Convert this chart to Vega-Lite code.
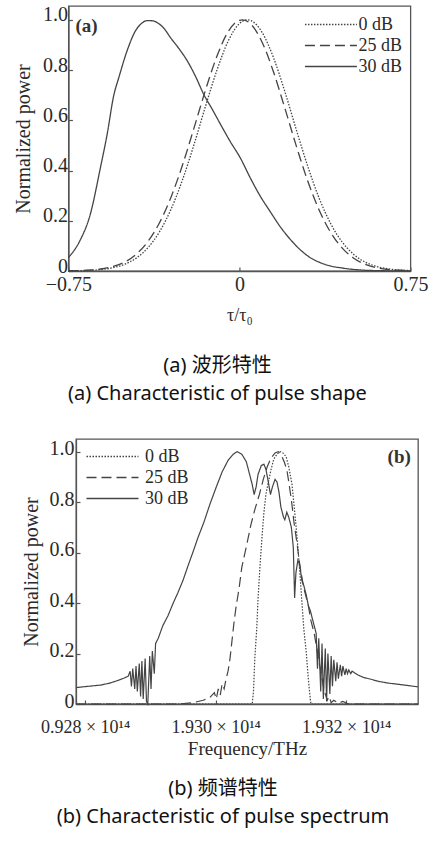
{
  "$schema": "https://vega.github.io/schema/vega-lite/v6.json",
  "background": "white",
  "padding": {"left": 12, "top": 4, "right": 0, "bottom": 0},
  "center": true,
  "spacing": 32,
  "resolve": {"scale": {"strokeDash": "independent"}, "legend": {"strokeDash": "independent"}},
  "config": {
    "view": {"stroke": "#555", "strokeWidth": 1.3},
    "axis": {
      "domainColor": "#555", "domainWidth": 1.3,
      "tickColor": "#555", "tickWidth": 1.2, "tickSize": -4,
      "labelFont": "Liberation Serif", "labelFontSize": 20, "labelColor": "#2a2a2a",
      "titleFont": "Liberation Serif", "titleFontWeight": "normal", "titleColor": "#2a2a2a",
      "grid": false, "labelFlush": false, "labelOverlap": false, "labelBound": false
    },
    "legend": {
      "orient": "none", "title": null, "symbolType": "M-3,0H3", "symbolSize": 300,
      "symbolStrokeWidth": 1.3, "symbolStrokeColor": "#444",
      "labelFont": "Liberation Serif", "labelFontSize": 18, "labelColor": "#2a2a2a",
      "rowPadding": 2, "padding": 0
    },
    "title": {
      "font": "Noto Sans, Noto Sans CJK SC", "fontSize": 20, "fontWeight": "normal",
      "color": "#111", "orient": "bottom", "anchor": "middle", "lineHeight": 28
    }
  },
  "datasets": {
    "pulse": [
      {"s": "0 dB", "t": -0.75, "p": 0.0005}, {"s": "0 dB", "t": -0.70, "p": 0.0012}, {"s": "0 dB", "t": -0.65, "p": 0.0028},
      {"s": "0 dB", "t": -0.60, "p": 0.0065}, {"s": "0 dB", "t": -0.55, "p": 0.014}, {"s": "0 dB", "t": -0.50, "p": 0.028},
      {"s": "0 dB", "t": -0.45, "p": 0.053}, {"s": "0 dB", "t": -0.40, "p": 0.094}, {"s": "0 dB", "t": -0.35, "p": 0.157},
      {"s": "0 dB", "t": -0.30, "p": 0.246}, {"s": "0 dB", "t": -0.25, "p": 0.362}, {"s": "0 dB", "t": -0.20, "p": 0.501},
      {"s": "0 dB", "t": -0.15, "p": 0.652}, {"s": "0 dB", "t": -0.10, "p": 0.796}, {"s": "0 dB", "t": -0.05, "p": 0.914},
      {"s": "0 dB", "t": 0.00, "p": 0.985}, {"s": "0 dB", "t": 0.035, "p": 1.0}, {"s": "0 dB", "t": 0.05, "p": 0.997},
      {"s": "0 dB", "t": 0.10, "p": 0.949}, {"s": "0 dB", "t": 0.15, "p": 0.848}, {"s": "0 dB", "t": 0.20, "p": 0.712},
      {"s": "0 dB", "t": 0.25, "p": 0.561}, {"s": "0 dB", "t": 0.30, "p": 0.416}, {"s": "0 dB", "t": 0.35, "p": 0.289},
      {"s": "0 dB", "t": 0.40, "p": 0.189}, {"s": "0 dB", "t": 0.45, "p": 0.116}, {"s": "0 dB", "t": 0.50, "p": 0.067},
      {"s": "0 dB", "t": 0.55, "p": 0.036}, {"s": "0 dB", "t": 0.60, "p": 0.0185}, {"s": "0 dB", "t": 0.65, "p": 0.0088},
      {"s": "0 dB", "t": 0.70, "p": 0.004}, {"s": "0 dB", "t": 0.75, "p": 0.0017},

      {"s": "25 dB", "t": -0.75, "p": 0.001}, {"s": "25 dB", "t": -0.70, "p": 0.002}, {"s": "25 dB", "t": -0.65, "p": 0.004},
      {"s": "25 dB", "t": -0.60, "p": 0.009}, {"s": "25 dB", "t": -0.55, "p": 0.019}, {"s": "25 dB", "t": -0.50, "p": 0.037},
      {"s": "25 dB", "t": -0.45, "p": 0.069}, {"s": "25 dB", "t": -0.40, "p": 0.119}, {"s": "25 dB", "t": -0.35, "p": 0.193},
      {"s": "25 dB", "t": -0.30, "p": 0.294}, {"s": "25 dB", "t": -0.25, "p": 0.421}, {"s": "25 dB", "t": -0.20, "p": 0.567},
      {"s": "25 dB", "t": -0.15, "p": 0.717}, {"s": "25 dB", "t": -0.10, "p": 0.852}, {"s": "25 dB", "t": -0.05, "p": 0.952},
      {"s": "25 dB", "t": 0.00, "p": 0.998}, {"s": "25 dB", "t": 0.013, "p": 1.0}, {"s": "25 dB", "t": 0.05, "p": 0.983},
      {"s": "25 dB", "t": 0.10, "p": 0.910}, {"s": "25 dB", "t": 0.15, "p": 0.791}, {"s": "25 dB", "t": 0.20, "p": 0.646},
      {"s": "25 dB", "t": 0.25, "p": 0.496}, {"s": "25 dB", "t": 0.30, "p": 0.357}, {"s": "25 dB", "t": 0.35, "p": 0.242},
      {"s": "25 dB", "t": 0.40, "p": 0.154}, {"s": "25 dB", "t": 0.45, "p": 0.092}, {"s": "25 dB", "t": 0.50, "p": 0.052},
      {"s": "25 dB", "t": 0.55, "p": 0.027}, {"s": "25 dB", "t": 0.60, "p": 0.013}, {"s": "25 dB", "t": 0.65, "p": 0.006},
      {"s": "25 dB", "t": 0.70, "p": 0.003}, {"s": "25 dB", "t": 0.75, "p": 0.001},

      {"s": "30 dB", "t": -0.75, "p": 0.053}, {"s": "30 dB", "t": -0.70, "p": 0.12}, {"s": "30 dB", "t": -0.654, "p": 0.226},
      {"s": "30 dB", "t": -0.61, "p": 0.41}, {"s": "30 dB", "t": -0.58, "p": 0.545}, {"s": "30 dB", "t": -0.551, "p": 0.70},
      {"s": "30 dB", "t": -0.529, "p": 0.77}, {"s": "30 dB", "t": -0.493, "p": 0.876}, {"s": "30 dB", "t": -0.456, "p": 0.956},
      {"s": "30 dB", "t": -0.43, "p": 0.985}, {"s": "30 dB", "t": -0.405, "p": 0.997}, {"s": "30 dB", "t": -0.38, "p": 0.996},
      {"s": "30 dB", "t": -0.361, "p": 0.989}, {"s": "30 dB", "t": -0.33, "p": 0.965}, {"s": "30 dB", "t": -0.303, "p": 0.93},
      {"s": "30 dB", "t": -0.265, "p": 0.885}, {"s": "30 dB", "t": -0.229, "p": 0.837}, {"s": "30 dB", "t": -0.19, "p": 0.77},
      {"s": "30 dB", "t": -0.157, "p": 0.704}, {"s": "30 dB", "t": -0.12, "p": 0.645}, {"s": "30 dB", "t": -0.083, "p": 0.584},
      {"s": "30 dB", "t": -0.04, "p": 0.515}, {"s": "30 dB", "t": 0.004, "p": 0.45}, {"s": "30 dB", "t": 0.048, "p": 0.37},
      {"s": "30 dB", "t": 0.09, "p": 0.30}, {"s": "30 dB", "t": 0.136, "p": 0.235}, {"s": "30 dB", "t": 0.18, "p": 0.175},
      {"s": "30 dB", "t": 0.224, "p": 0.125}, {"s": "30 dB", "t": 0.27, "p": 0.082}, {"s": "30 dB", "t": 0.311, "p": 0.053},
      {"s": "30 dB", "t": 0.35, "p": 0.035}, {"s": "30 dB", "t": 0.399, "p": 0.02}, {"s": "30 dB", "t": 0.45, "p": 0.012},
      {"s": "30 dB", "t": 0.516, "p": 0.005}, {"s": "30 dB", "t": 0.58, "p": 0.002}, {"s": "30 dB", "t": 0.63, "p": 0.001},
      {"s": "30 dB", "t": 0.75, "p": 0.0}
    ],
    "spec": [
      {"s": "0 dB", "f": 1.92786, "p": 0}, {"s": "0 dB", "f": 1.93056, "p": 0}, {"s": "0 dB", "f": 1.93058, "p": 0.05},
      {"s": "0 dB", "f": 1.93060, "p": 0.18}, {"s": "0 dB", "f": 1.93063, "p": 0.30}, {"s": "0 dB", "f": 1.93065, "p": 0.42},
      {"s": "0 dB", "f": 1.93068, "p": 0.55}, {"s": "0 dB", "f": 1.93071, "p": 0.66}, {"s": "0 dB", "f": 1.93074, "p": 0.76},
      {"s": "0 dB", "f": 1.93077, "p": 0.83}, {"s": "0 dB", "f": 1.93080, "p": 0.87}, {"s": "0 dB", "f": 1.93085, "p": 0.93},
      {"s": "0 dB", "f": 1.93089, "p": 0.97}, {"s": "0 dB", "f": 1.93094, "p": 0.99}, {"s": "0 dB", "f": 1.93099, "p": 1.0},
      {"s": "0 dB", "f": 1.93103, "p": 0.995}, {"s": "0 dB", "f": 1.93108, "p": 0.98}, {"s": "0 dB", "f": 1.93112, "p": 0.94},
      {"s": "0 dB", "f": 1.93117, "p": 0.87}, {"s": "0 dB", "f": 1.93120, "p": 0.79}, {"s": "0 dB", "f": 1.93123, "p": 0.71},
      {"s": "0 dB", "f": 1.93126, "p": 0.62}, {"s": "0 dB", "f": 1.93129, "p": 0.52}, {"s": "0 dB", "f": 1.93132, "p": 0.41},
      {"s": "0 dB", "f": 1.93135, "p": 0.30}, {"s": "0 dB", "f": 1.93139, "p": 0.20}, {"s": "0 dB", "f": 1.93142, "p": 0.10},
      {"s": "0 dB", "f": 1.93145, "p": 0.02}, {"s": "0 dB", "f": 1.93146, "p": 0}, {"s": "0 dB", "f": 1.93310, "p": 0},

      {"s": "25 dB", "f": 1.92786, "p": 0}, {"s": "25 dB", "f": 1.92942, "p": 0}, {"s": "25 dB", "f": 1.92965, "p": 0.005},
      {"s": "25 dB", "f": 1.92981, "p": 0.015}, {"s": "25 dB", "f": 1.92991, "p": 0.025}, {"s": "25 dB", "f": 1.92998, "p": 0.045},
      {"s": "25 dB", "f": 1.93001, "p": 0.02}, {"s": "25 dB", "f": 1.93004, "p": 0.06}, {"s": "25 dB", "f": 1.93007, "p": 0.035},
      {"s": "25 dB", "f": 1.93010, "p": 0.08}, {"s": "25 dB", "f": 1.93013, "p": 0.06}, {"s": "25 dB", "f": 1.93016, "p": 0.1},
      {"s": "25 dB", "f": 1.93019, "p": 0.13}, {"s": "25 dB", "f": 1.93022, "p": 0.18}, {"s": "25 dB", "f": 1.93025, "p": 0.25},
      {"s": "25 dB", "f": 1.93028, "p": 0.32}, {"s": "25 dB", "f": 1.93031, "p": 0.38}, {"s": "25 dB", "f": 1.93036, "p": 0.46},
      {"s": "25 dB", "f": 1.93040, "p": 0.54}, {"s": "25 dB", "f": 1.93045, "p": 0.60}, {"s": "25 dB", "f": 1.93050, "p": 0.66},
      {"s": "25 dB", "f": 1.93054, "p": 0.71}, {"s": "25 dB", "f": 1.93060, "p": 0.77}, {"s": "25 dB", "f": 1.93067, "p": 0.83},
      {"s": "25 dB", "f": 1.93073, "p": 0.89}, {"s": "25 dB", "f": 1.93079, "p": 0.94}, {"s": "25 dB", "f": 1.93085, "p": 0.975},
      {"s": "25 dB", "f": 1.93091, "p": 0.995}, {"s": "25 dB", "f": 1.93096, "p": 1.0}, {"s": "25 dB", "f": 1.93100, "p": 0.99},
      {"s": "25 dB", "f": 1.93105, "p": 0.96}, {"s": "25 dB", "f": 1.93109, "p": 0.93}, {"s": "25 dB", "f": 1.93112, "p": 0.88},
      {"s": "25 dB", "f": 1.93116, "p": 0.81}, {"s": "25 dB", "f": 1.93120, "p": 0.72}, {"s": "25 dB", "f": 1.93125, "p": 0.63},
      {"s": "25 dB", "f": 1.93129, "p": 0.55}, {"s": "25 dB", "f": 1.93135, "p": 0.46}, {"s": "25 dB", "f": 1.93142, "p": 0.39},
      {"s": "25 dB", "f": 1.93146, "p": 0.33}, {"s": "25 dB", "f": 1.93151, "p": 0.28}, {"s": "25 dB", "f": 1.93155, "p": 0.22},
      {"s": "25 dB", "f": 1.93158, "p": 0.17}, {"s": "25 dB", "f": 1.93162, "p": 0.12}, {"s": "25 dB", "f": 1.93165, "p": 0.07},
      {"s": "25 dB", "f": 1.93168, "p": 0.04}, {"s": "25 dB", "f": 1.93171, "p": 0.015}, {"s": "25 dB", "f": 1.93174, "p": 0.03},
      {"s": "25 dB", "f": 1.93177, "p": 0.005}, {"s": "25 dB", "f": 1.93181, "p": 0.015}, {"s": "25 dB", "f": 1.93188, "p": 0.003},
      {"s": "25 dB", "f": 1.93195, "p": 0.01}, {"s": "25 dB", "f": 1.93203, "p": 0}, {"s": "25 dB", "f": 1.93310, "p": 0},

      {"s": "30 dB", "f": 1.92786, "p": 0.065}, {"s": "30 dB", "f": 1.92797, "p": 0.068}, {"s": "30 dB", "f": 1.92812, "p": 0.072},
      {"s": "30 dB", "f": 1.92824, "p": 0.075}, {"s": "30 dB", "f": 1.92838, "p": 0.083}, {"s": "30 dB", "f": 1.92850, "p": 0.093},
      {"s": "30 dB", "f": 1.92860, "p": 0.103}, {"s": "30 dB", "f": 1.92866, "p": 0.11}, {"s": "30 dB", "f": 1.92869, "p": 0.13},
      {"s": "30 dB", "f": 1.92871, "p": 0.07}, {"s": "30 dB", "f": 1.92873, "p": 0.14}, {"s": "30 dB", "f": 1.92876, "p": 0.06},
      {"s": "30 dB", "f": 1.92878, "p": 0.15}, {"s": "30 dB", "f": 1.92880, "p": 0.05}, {"s": "30 dB", "f": 1.92883, "p": 0.16},
      {"s": "30 dB", "f": 1.92885, "p": 0.03}, {"s": "30 dB", "f": 1.92887, "p": 0.17}, {"s": "30 dB", "f": 1.92889, "p": 0.02},
      {"s": "30 dB", "f": 1.92892, "p": 0.18}, {"s": "30 dB", "f": 1.92894, "p": 0.01}, {"s": "30 dB", "f": 1.92896, "p": 0.0},
      {"s": "30 dB", "f": 1.92899, "p": 0.19}, {"s": "30 dB", "f": 1.92901, "p": 0.06}, {"s": "30 dB", "f": 1.92903, "p": 0.21},
      {"s": "30 dB", "f": 1.92906, "p": 0.12}, {"s": "30 dB", "f": 1.92908, "p": 0.24}, {"s": "30 dB", "f": 1.92912, "p": 0.26},
      {"s": "30 dB", "f": 1.92919, "p": 0.31}, {"s": "30 dB", "f": 1.92927, "p": 0.35}, {"s": "30 dB", "f": 1.92935, "p": 0.40},
      {"s": "30 dB", "f": 1.92942, "p": 0.44}, {"s": "30 dB", "f": 1.92950, "p": 0.49}, {"s": "30 dB", "f": 1.92958, "p": 0.55},
      {"s": "30 dB", "f": 1.92965, "p": 0.60}, {"s": "30 dB", "f": 1.92973, "p": 0.66}, {"s": "30 dB", "f": 1.92982, "p": 0.72},
      {"s": "30 dB", "f": 1.92991, "p": 0.79}, {"s": "30 dB", "f": 1.93001, "p": 0.86}, {"s": "30 dB", "f": 1.93010, "p": 0.92},
      {"s": "30 dB", "f": 1.93019, "p": 0.965}, {"s": "30 dB", "f": 1.93027, "p": 0.99}, {"s": "30 dB", "f": 1.93033, "p": 1.0},
      {"s": "30 dB", "f": 1.93040, "p": 0.99}, {"s": "30 dB", "f": 1.93047, "p": 0.96}, {"s": "30 dB", "f": 1.93051, "p": 0.92},
      {"s": "30 dB", "f": 1.93056, "p": 0.87}, {"s": "30 dB", "f": 1.93059, "p": 0.83}, {"s": "30 dB", "f": 1.93062, "p": 0.86},
      {"s": "30 dB", "f": 1.93065, "p": 0.91}, {"s": "30 dB", "f": 1.93070, "p": 0.945}, {"s": "30 dB", "f": 1.93074, "p": 0.95},
      {"s": "30 dB", "f": 1.93077, "p": 0.93}, {"s": "30 dB", "f": 1.93080, "p": 0.89}, {"s": "30 dB", "f": 1.93084, "p": 0.83},
      {"s": "30 dB", "f": 1.93087, "p": 0.86}, {"s": "30 dB", "f": 1.93091, "p": 0.89}, {"s": "30 dB", "f": 1.93094, "p": 0.88},
      {"s": "30 dB", "f": 1.93097, "p": 0.84}, {"s": "30 dB", "f": 1.93100, "p": 0.78}, {"s": "30 dB", "f": 1.93104, "p": 0.74},
      {"s": "30 dB", "f": 1.93106, "p": 0.73}, {"s": "30 dB", "f": 1.93109, "p": 0.76}, {"s": "30 dB", "f": 1.93112, "p": 0.74},
      {"s": "30 dB", "f": 1.93116, "p": 0.70}, {"s": "30 dB", "f": 1.93119, "p": 0.62}, {"s": "30 dB", "f": 1.93121, "p": 0.42},
      {"s": "30 dB", "f": 1.93123, "p": 0.52}, {"s": "30 dB", "f": 1.93126, "p": 0.57}, {"s": "30 dB", "f": 1.93129, "p": 0.55},
      {"s": "30 dB", "f": 1.93132, "p": 0.49}, {"s": "30 dB", "f": 1.93135, "p": 0.47}, {"s": "30 dB", "f": 1.93139, "p": 0.43},
      {"s": "30 dB", "f": 1.93142, "p": 0.39}, {"s": "30 dB", "f": 1.93145, "p": 0.37}, {"s": "30 dB", "f": 1.93148, "p": 0.34},
      {"s": "30 dB", "f": 1.93151, "p": 0.31}, {"s": "30 dB", "f": 1.93154, "p": 0.28}, {"s": "30 dB", "f": 1.93156, "p": 0.14},
      {"s": "30 dB", "f": 1.93158, "p": 0.26}, {"s": "30 dB", "f": 1.93161, "p": 0.05}, {"s": "30 dB", "f": 1.93163, "p": 0.24},
      {"s": "30 dB", "f": 1.93165, "p": 0.02}, {"s": "30 dB", "f": 1.93168, "p": 0.22}, {"s": "30 dB", "f": 1.93170, "p": 0.01},
      {"s": "30 dB", "f": 1.93172, "p": 0.20}, {"s": "30 dB", "f": 1.93175, "p": 0.04}, {"s": "30 dB", "f": 1.93177, "p": 0.19},
      {"s": "30 dB", "f": 1.93179, "p": 0.07}, {"s": "30 dB", "f": 1.93181, "p": 0.175}, {"s": "30 dB", "f": 1.93184, "p": 0.09},
      {"s": "30 dB", "f": 1.93186, "p": 0.165}, {"s": "30 dB", "f": 1.93188, "p": 0.10}, {"s": "30 dB", "f": 1.93191, "p": 0.155},
      {"s": "30 dB", "f": 1.93193, "p": 0.11}, {"s": "30 dB", "f": 1.93195, "p": 0.15}, {"s": "30 dB", "f": 1.93198, "p": 0.115},
      {"s": "30 dB", "f": 1.93200, "p": 0.14}, {"s": "30 dB", "f": 1.93202, "p": 0.12}, {"s": "30 dB", "f": 1.93204, "p": 0.135},
      {"s": "30 dB", "f": 1.93207, "p": 0.12}, {"s": "30 dB", "f": 1.93209, "p": 0.13}, {"s": "30 dB", "f": 1.93212, "p": 0.125},
      {"s": "30 dB", "f": 1.93218, "p": 0.115}, {"s": "30 dB", "f": 1.93227, "p": 0.105}, {"s": "30 dB", "f": 1.93238, "p": 0.098},
      {"s": "30 dB", "f": 1.93249, "p": 0.09}, {"s": "30 dB", "f": 1.93264, "p": 0.083}, {"s": "30 dB", "f": 1.93280, "p": 0.078},
      {"s": "30 dB", "f": 1.93295, "p": 0.073}, {"s": "30 dB", "f": 1.93310, "p": 0.068}
    ],
    "tagA": [{"t": -0.719, "p": 0.976, "label": "(a)"}],
    "tagB": [{"f": 1.93299, "p": 0.98, "label": "(b)"}]
  },
  "vconcat": [
    {
      "width": 342, "height": 265,
      "title": {"text": ["(a) 波形特性", "(a) Characteristic of pulse shape"], "dx": -22, "offset": 32},
      "layer": [
        {
          "data": {"name": "pulse"},
          "mark": {"type": "line", "interpolate": "monotone", "strokeWidth": 1.3, "color": "#444"},
          "encoding": {
            "x": {"field": "t", "type": "quantitative",
                  "scale": {"domain": [-0.75, 0.75], "nice": false, "zero": false},
                  "axis": {"values": [-0.75, 0, 0.75], "labelPadding": 7, "titlePadding": 12, "titleFontSize": 18,
                           "labelExpr": "datum.value == 0 ? '0' : format(datum.value, '.2f')", "title": "τ/τ₀"}},
            "y": {"field": "p", "type": "quantitative",
                  "scale": {"domain": [0, 1.055], "nice": false},
                  "axis": {"values": [0, 0.2, 0.4, 0.6, 0.8, 1.0], "labelPadding": 5, "labelOffset": -5, "titlePadding": 9, "titleFontSize": 20,
                           "labelExpr": "datum.value == 0 ? '0' : format(datum.value, '.1f')", "title": "Normalized power"}},
            "strokeDash": {"field": "s", "type": "nominal",
                           "scale": {"domain": ["0 dB", "25 dB", "30 dB"], "range": [[1.5, 1.5], [10, 5], [1, 0]]},
                           "legend": {"legendX": 253, "legendY": 9, "labelOffset": 18}}
          }
        },
        {
          "data": {"name": "tagA"},
          "mark": {"type": "text", "align": "left", "baseline": "middle", "font": "Liberation Serif", "fontSize": 19, "fontWeight": "bold", "color": "#333"},
          "encoding": {
            "x": {"field": "t", "type": "quantitative"},
            "y": {"field": "p", "type": "quantitative"},
            "text": {"field": "label"}
          }
        }
      ]
    },
    {
      "width": 342, "height": 265,
      "title": {"text": ["(b) 频谱特性", "(b) Characteristic of pulse spectrum"], "dx": -24, "offset": 21},
      "layer": [
        {
          "data": {"name": "spec"},
          "mark": {"type": "line", "strokeWidth": 1.2, "color": "#444"},
          "encoding": {
            "x": {"field": "f", "type": "quantitative",
                  "scale": {"domain": [1.92786, 1.9331], "nice": false, "zero": false},
                  "axis": {"values": [1.928, 1.93, 1.932], "labelPadding": 18, "labelFontSize": 18, "titlePadding": 3, "titleFontSize": 19,
                           "labelExpr": "datum.value < 1.929 ? '0.928 × 10¹⁴' : datum.value < 1.931 ? '1.930 × 10¹⁴' : '1.932 × 10¹⁴'",
                           "title": "Frequency/THz"}},
            "y": {"field": "p", "type": "quantitative",
                  "scale": {"domain": [0, 1.05], "nice": false},
                  "axis": {"values": [0, 0.2, 0.4, 0.6, 0.8, 1.0], "labelPadding": 6, "labelOffset": -3, "titlePadding": 7, "titleFontSize": 20,
                           "labelExpr": "datum.value == 0 ? '0' : format(datum.value, '.1f')", "title": "Normalized power"}},
            "strokeDash": {"field": "s", "type": "nominal",
                           "scale": {"domain": ["0 dB", "25 dB", "30 dB"], "range": [[1.5, 1.5], [10, 5], [1, 0]]},
                           "legend": {"legendX": 27, "legendY": 8, "labelOffset": 23}}
          }
        },
        {
          "data": {"name": "tagB"},
          "mark": {"type": "text", "align": "right", "baseline": "middle", "font": "Liberation Serif", "fontSize": 19, "fontWeight": "bold", "color": "#333"},
          "encoding": {
            "x": {"field": "f", "type": "quantitative"},
            "y": {"field": "p", "type": "quantitative"},
            "text": {"field": "label"}
          }
        }
      ]
    }
  ]
}
